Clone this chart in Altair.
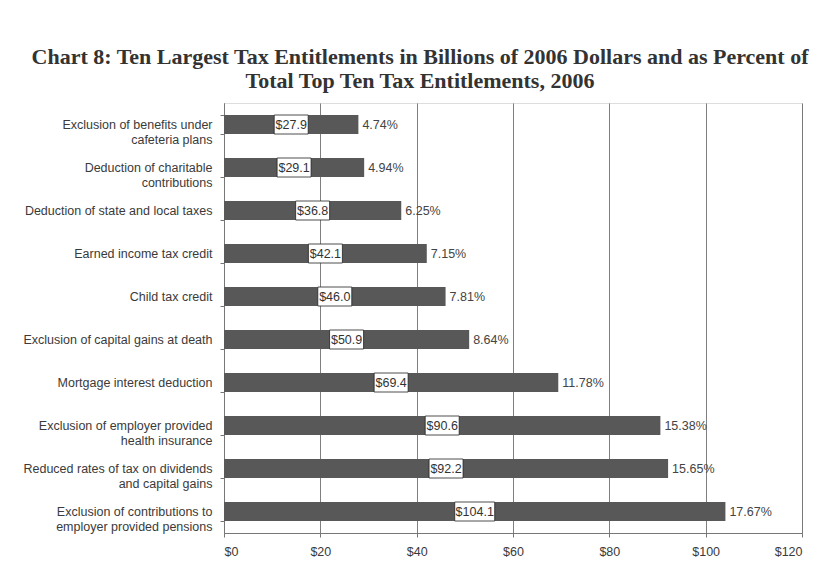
import altair as alt
import pandas as pd

categories = [
    "Exclusion of benefits under\ncafeteria plans",
    "Deduction of charitable\ncontributions",
    "Deduction of state and local taxes",
    "Earned income tax credit",
    "Child tax credit",
    "Exclusion of capital gains at death",
    "Mortgage interest deduction",
    "Exclusion of employer provided\nhealth insurance",
    "Reduced rates of tax on dividends\nand capital gains",
    "Exclusion of contributions to\nemployer provided pensions",
]
values = [27.9, 29.1, 36.8, 42.1, 46.0, 50.9, 69.4, 90.6, 92.2, 104.1]
value_labels = ["$27.9", "$29.1", "$36.8", "$42.1", "$46.0", "$50.9", "$69.4", "$90.6", "$92.2", "$104.1"]
pct_labels = ["4.74%", "4.94%", "6.25%", "7.15%", "7.81%", "8.64%", "11.78%", "15.38%", "15.65%", "17.67%"]
x_ticks = [0, 20, 40, 60, 80, 100, 120]

df = pd.DataFrame({"cat": categories, "val": values, "vlab": value_labels, "plab": pct_labels})

yscale = alt.Scale(domain=categories, paddingInner=0.58, paddingOuter=0.29)
y = alt.Y("cat:N", title=None, scale=yscale,
          axis=alt.Axis(labelExpr="isValid(datum.value) ? split(datum.value, '\\n') : ''",
                        labelFont="Liberation Sans",
                        labelFontSize=12.5, labelColor="#3a3a3a", labelLimit=260, labelPadding=8,
                        labelLineHeight=15, tickBand="extent", tickSize=4, tickColor="#777",
                        domainColor="#777"))
x = alt.X("val:Q", title=None,
          scale=alt.Scale(domain=[0, 120], nice=False),
          axis=alt.Axis(values=x_ticks, labelExpr="'$' + datum.value", labelFont="Liberation Sans",
                        labelFontSize=12.5, labelColor="#3a3a3a", labelPadding=8, tickSize=4,
                        tickColor="#777", domainColor="#777", grid=True, gridColor="#5e5e5e",
                        gridWidth=0.8))

base = alt.Chart(df)

bars = base.mark_bar(color="#585858", size=19).encode(x=x, y=y)

mid = base.transform_calculate(mid="datum.val / 2")
ymid = alt.Y("cat:N", scale=yscale)

box5 = mid.transform_filter("length(datum.vlab) <= 5").mark_bar(
    color="white", stroke="#222", strokeWidth=0.8, size=19, xOffset=-17, x2Offset=17
).encode(x=alt.X("mid:Q"), x2="mid:Q", y=ymid)
box6 = mid.transform_filter("length(datum.vlab) > 5").mark_bar(
    color="white", stroke="#222", strokeWidth=0.8, size=19, xOffset=-20, x2Offset=20
).encode(x=alt.X("mid:Q"), x2="mid:Q", y=ymid)

vtext = mid.mark_text(font="Liberation Sans", fontSize=12.5, color="#333", align="center",
                      baseline="middle").encode(
    x=alt.X("mid:Q"), y=ymid, text="vlab:N")

ptext = base.mark_text(font="Liberation Sans", fontSize=12.5, color="#444", align="left",
                       baseline="middle", dx=4).encode(
    x=alt.X("val:Q"), y=ymid, text="plab:N")

chart = alt.layer(bars, box5, box6, vtext, ptext).properties(
    width=578, height=430,
    title=alt.TitleParams(
        text=["Chart 8: Ten Largest Tax Entitlements in Billions of 2006 Dollars and as Percent of",
              "Total Top Ten Tax Entitlements, 2006"],
        font="Liberation Serif", fontSize=22, fontWeight="bold", color="#333",
        anchor="middle", dx=-93, offset=4, lineHeight=24),
    autosize="none",
    padding={"left": 216, "top": 95, "right": 12, "bottom": 36},
).configure_view(fill="#cdcdcd", stroke="#888", strokeWidth=1).configure(background="white")

chart.save("out.html", embed_options={"renderer": "svg", "actions": False})
